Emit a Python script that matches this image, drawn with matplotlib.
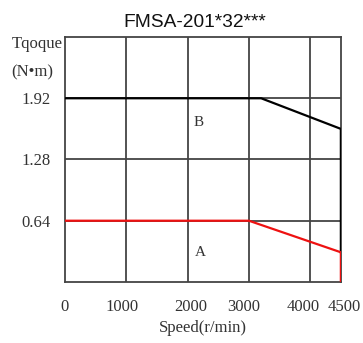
import matplotlib
matplotlib.use('Agg')
import matplotlib.pyplot as plt
from matplotlib.transforms import ScaledTranslation

# torque-speed curves
speed_b = [0, 3200, 4500, 4500]
torque_b = [1.92, 1.92, 1.60, 0.31]
speed_a = [0, 3000, 4500, 4500]
torque_a = [0.64, 0.64, 0.31, 0.0]

xticks = [0, 1000, 2000, 3000, 4000, 4500]
xgrid = [1000, 2000, 3000, 4000]
yticks = [0.64, 1.28, 1.92]

serif = 'Liberation Serif'

fig = plt.figure(figsize=(3.63, 3.43), dpi=100)
ax = fig.add_axes([0.179, 0.178, 0.760, 0.714])
ax.set_xlim(0, 4500)
ax.set_ylim(0, 2.56)

gc = '#444444'
for x in xgrid:
    ax.axvline(x, color=gc, lw=1.3, zorder=1)
for y in yticks:
    ax.axhline(y, color=gc, lw=1.3, zorder=1)
for s in ax.spines.values():
    s.set_color(gc)
    s.set_linewidth(1.3)

ax.plot(speed_b, torque_b, color='black', lw=1.6, zorder=3)
ax.plot(speed_a, torque_a, color='#ee1111', lw=1.6, zorder=4)

ax.text(2180, 1.67, 'B', fontsize=11, family=serif, ha='center', va='center', color='#333333')
ax.text(2200, 0.31, 'A', fontsize=11, family=serif, ha='center', va='center', color='#333333')

ax.set_xticks(xticks)
ax.set_xticklabels([str(v) for v in xticks], family=serif, fontsize=12)
ax.set_yticks(yticks)
ax.set_yticklabels(['%.2f' % v for v in yticks], family=serif, fontsize=12)
ax.tick_params(length=0, pad=12, colors='#333333')
ax.tick_params(axis='y', pad=10)

# nudge x labels the way they sit in the original
shifts = [0, -4, 3, -5, -7, 3]
for lab, dx in zip(ax.get_xticklabels(), shifts):
    lab.set_transform(lab.get_transform() + ScaledTranslation(dx / 100, 0, fig.dpi_scale_trans))

ax.set_xlabel('Speed(r/min)', family=serif, fontsize=12, color='#333333', labelpad=4)
fig.text(0.102, 0.873, 'Tqoque', family=serif, fontsize=12, ha='center', va='center', color='#333333')
fig.text(0.090, 0.790, '(N•m)', family=serif, fontsize=12, ha='center', va='center', color='#333333')

fig.text(0.537, 0.933, 'FMSA-201*32***', family='Liberation Sans', fontsize=13.8,
         ha='center', va='center', color='#111111')

fig.savefig('out.png', dpi=100)
